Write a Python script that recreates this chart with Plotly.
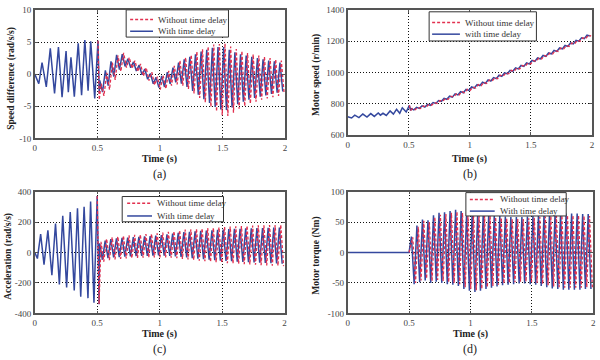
import plotly.graph_objects as go

# ---------------- DATA ----------------
# Post-0.5 s oscillation: extrema times (peaks and the troughs that follow them)
peak_t = [0.53, 0.575, 0.62, 0.665, 0.71, 0.755, 0.80, 0.845, 0.89, 0.935, 0.98,
          1.025, 1.07, 1.115, 1.16, 1.205, 1.25, 1.295, 1.34, 1.385, 1.43, 1.475,
          1.52, 1.565, 1.61, 1.655, 1.70, 1.745, 1.79, 1.835, 1.88, 1.925, 1.97]
trough_t = [0.5525, 0.5975, 0.6425, 0.6875, 0.7325, 0.7775, 0.8225, 0.8675, 0.9125,
            0.9575, 1.0025, 1.0475, 1.0925, 1.1375, 1.1825, 1.2275, 1.2725, 1.3175,
            1.3625, 1.4075, 1.4525, 1.4975, 1.5425, 1.5875, 1.6325, 1.6775, 1.7225,
            1.7675, 1.8125, 1.8575, 1.9025, 1.9475, 1.9925]
blue_lead = 0.011   # the "with time delay" trace runs slightly ahead of the other

# (a) speed difference
a_pre_t = [0, 0.032, 0.058, 0.092, 0.124, 0.158, 0.189, 0.218, 0.25, 0.268, 0.289,
           0.316, 0.347, 0.374, 0.40, 0.426, 0.447, 0.479, 0.505, 0.515]
a_pre_v = [0, -1.5, 1.8, -2.0, 4.0, -3.0, 4.2, -3.6, 3.6, -2.8, 2.6, -3.5, 4.8, -3.3,
           5.3, -2.6, 5.1, -3.8, 5.2, -3.0]
a_red_start_t = [0.505, 0.515]
a_red_start_v = [5.2, -4.0]
a_hi_red = [-1.5, 0.2, 1.8, 2.9, 3.3, 2.6, 2.1, 1.6, 1.0, 0.3, -0.4, -0.2, 0.5, 1.3,
            2.1, 2.6, 3.0, 3.5, 3.9, 4.3, 4.6, 4.7, 4.8, 4.3, 3.9, 3.6, 3.3, 3.1, 2.9,
            2.7, 2.5, 2.3, 2.1]
a_lo_red = [-3.4, -2.4, -0.9, 0.4, 1.0, 0.9, 0.4, -0.3, -1.0, -1.7, -2.4, -2.3, -1.8,
            -1.6, -1.8, -2.3, -3.0, -3.7, -4.4, -5.1, -5.8, -6.4, -6.5, -6.0, -5.4,
            -5.0, -4.6, -4.3, -4.0, -3.8, -3.6, -3.4, -3.1]
a_hi_blue = [-1.0, 0.6, 2.0, 3.0, 3.1, 2.4, 1.9, 1.4, 0.8, 0.1, -0.5, -0.3, 0.3, 1.0,
             1.8, 2.3, 2.7, 3.1, 3.5, 3.8, 4.1, 4.2, 4.2, 3.8, 3.4, 3.1, 2.9, 2.7, 2.5,
             2.3, 2.1, 2.0, 1.8]
a_lo_blue = [-2.8, -1.8, -0.4, 0.7, 1.2, 1.0, 0.5, -0.1, -0.8, -1.5, -2.1, -2.0, -1.5,
             -1.3, -1.5, -2.0, -2.6, -3.2, -3.9, -4.5, -5.1, -5.5, -5.6, -5.2, -4.7,
             -4.3, -4.0, -3.7, -3.5, -3.3, -3.1, -2.9, -2.7]

# (b) motor speed
b_pre_v = [718, 710, 728, 712, 735, 716, 738, 720, 742, 728, 740, 726, 755, 735, 765,
           740, 775, 748, 790, 758]
b_red_start_v = [790, 758]
b_hi = [770, 778, 787, 797, 808, 821, 835, 849, 864, 878, 893, 908, 923, 938, 953, 968,
        983, 998, 1014, 1030, 1045, 1061, 1077, 1093, 1109, 1125, 1141, 1157, 1173,
        1189, 1206, 1222, 1239]
b_lo = [762, 771, 780, 791, 803, 816, 829, 843, 857, 871, 886, 901, 916, 931, 946, 961,
        976, 992, 1008, 1023, 1039, 1055, 1071, 1087, 1103, 1119, 1135, 1151, 1167,
        1183, 1200, 1216, 1233]

# (c) acceleration
c_pre_t = [0, 0.021, 0.047, 0.074, 0.105, 0.137, 0.166, 0.197, 0.224, 0.255, 0.284,
           0.316, 0.342, 0.368, 0.395, 0.426, 0.447, 0.474, 0.50, 0.515]
c_pre_v = [0, -40, 120, -80, 145, -150, 190, -210, 240, -230, 265, -250, 290, -290,
           300, -300, 335, -330, 370, -340]
c_red_start_t = [0.50, 0.515]
c_red_start_v = [370, -340]
c_hi_red = [70, 90, 100, 105, 110, 112, 115, 118, 120, 122, 125, 130, 135, 140, 145,
            150, 152, 155, 158, 160, 162, 165, 168, 170, 172, 173, 175, 176, 178, 178,
            180, 180, 182]
c_lo_red = [-60, -50, -45, -42, -40, -38, -36, -35, -34, -33, -32, -33, -35, -38, -42,
            -46, -50, -54, -58, -62, -65, -68, -70, -72, -75, -77, -79, -81, -83, -85,
            -87, -88, -90]
c_hi_blue = [60, 78, 87, 92, 96, 98, 100, 103, 105, 107, 110, 114, 119, 124, 129, 133,
             136, 139, 142, 144, 146, 149, 151, 153, 155, 156, 158, 159, 160, 161, 162,
             163, 164]
c_lo_blue = [-48, -38, -33, -30, -28, -26, -24, -23, -22, -21, -20, -21, -23, -26, -29,
             -33, -37, -41, -45, -48, -51, -54, -56, -58, -60, -62, -64, -66, -68, -69,
             -71, -72, -74]

# (d) motor torque
d_pre_t = [0, 0.5]
d_pre_v = [0, 0]
d_hi_red = [25, 42, 52, 50, 58, 62, 63, 65, 67, 65, 63, 62, 61, 60, 60, 58, 57, 56, 55,
            55, 55, 56, 57, 58, 59, 60, 60, 61, 61, 61, 61, 60, 60]
d_lo_red = [-50, -46, -43, -47, -45, -47, -49, -50, -52, -57, -60, -62, -60, -57, -55,
            -53, -51, -50, -49, -48, -48, -49, -50, -52, -54, -56, -57, -58, -58, -58,
            -58, -57, -57]
d_hi_blue = [26, 44, 54, 53, 61, 65, 66, 68, 70, 68, 66, 65, 64, 63, 63, 61, 60, 59, 58,
             58, 58, 59, 60, 61, 62, 63, 63, 64, 64, 64, 64, 63, 63]
d_lo_blue = [-52, -49, -46, -50, -48, -50, -52, -53, -55, -60, -63, -65, -63, -60, -58,
             -56, -54, -53, -52, -51, -51, -52, -53, -55, -57, -59, -60, -61, -61, -61,
             -61, -60, -60]

x_ticks = [0, 0.5, 1, 1.5, 2]
x_tick_text = ["0", "0.5", "1", "1.5", "2"]
a_ticks = [-10, -5, 0, 5, 10]
a_tick_text = ["-10", "-5", "0", "5", "10"]
b_ticks = [600, 800, 1000, 1200, 1400]
b_tick_text = ["600", "800", "1000", "1200", "1400"]
c_ticks = [-400, -200, 0, 200, 400]
c_tick_text = ["-400", "-200", "0", "200", "400"]
d_ticks = [-100, -50, 0, 50, 100]
d_tick_text = ["-100", "-50", "0", "50", "100"]

y_titles = ["Speed difference (rad/s/s)", "Motor speed (r/min)",
            "Acceleration (rad/s/s)", "Motor torque (Nm)"]
legend_names = [("Without time delay", "With time delay"),
                ("Without time delay", "with time delay"),
                ("Without time delay", "With time delay"),
                ("Without time delay", "With time delay")]
panel_labels = ["(a)", "(b)", "(c)", "(d)"]

# ---------------- helpers ----------------
red_ext_t = [v for pair in zip(peak_t, trough_t) for v in pair]
blue_ext_t = [v - blue_lead for v in red_ext_t]


def interleave(hi, lo):
    return [v for pair in zip(hi, lo) for v in pair]


RED = "#e2304f"
BLUE = "#34489e"
FONT = "Liberation Serif"

fig = go.Figure()

panels = [
    dict(ax="",
         blue_t=a_pre_t + blue_ext_t, blue_v=a_pre_v + interleave(a_hi_blue, a_lo_blue),
         red_t=a_red_start_t + red_ext_t, red_v=a_red_start_v + interleave(a_hi_red, a_lo_red)),
    dict(ax="2",
         blue_t=a_pre_t + blue_ext_t, blue_v=b_pre_v + interleave(b_hi, b_lo),
         red_t=a_red_start_t + red_ext_t, red_v=b_red_start_v + interleave(b_hi, b_lo)),
    dict(ax="3",
         blue_t=c_pre_t + blue_ext_t, blue_v=c_pre_v + interleave(c_hi_blue, c_lo_blue),
         red_t=c_red_start_t + red_ext_t, red_v=c_red_start_v + interleave(c_hi_red, c_lo_red)),
    dict(ax="4",
         blue_t=d_pre_t + blue_ext_t, blue_v=d_pre_v + interleave(d_hi_blue, d_lo_blue),
         red_t=d_pre_t[-1:] + red_ext_t, red_v=d_pre_v[-1:] + interleave(d_hi_red, d_lo_red)),
]

for i, p in enumerate(panels):
    xa, ya = "x" + p["ax"], "y" + p["ax"]
    fig.add_trace(go.Scatter(x=p["blue_t"], y=p["blue_v"], mode="lines",
                             name=legend_names[i][1],
                             line=dict(color=BLUE, width=1.5),
                             xaxis=xa, yaxis=ya, showlegend=False, hoverinfo="skip"))
    fig.add_trace(go.Scatter(x=p["red_t"], y=p["red_v"], mode="lines",
                             name=legend_names[i][0],
                             line=dict(color=RED, width=1.3, dash="3px,2px"),
                             xaxis=xa, yaxis=ya, showlegend=False, hoverinfo="skip"))

x_domains = [(0.055, 0.475), (0.58, 0.99), (0.055, 0.474), (0.58, 0.992)]
y_domains = [(0.619, 0.986), (0.628, 0.986), (0.119, 0.467), (0.119, 0.467)]
y_ranges = [(-10, 10), (600, 1400), (-400, 400), (-100, 100)]
y_tickv = [(a_ticks, a_tick_text), (b_ticks, b_tick_text),
           (c_ticks, c_tick_text), (d_ticks, d_tick_text)]

axis_common = dict(showgrid=True, gridcolor="#111", griddash="1px,2px", gridwidth=1,
                   showline=True, linecolor="#555", linewidth=1.5, mirror="ticks",
                   ticks="inside", ticklen=3, tickcolor="#555", zeroline=False,
                   tickfont=dict(family=FONT, size=9, color="#444"))

layout = dict(width=600, height=360, margin=dict(l=0, r=0, t=0, b=0),
              paper_bgcolor="white", plot_bgcolor="white", showlegend=False)
for i in range(4):
    s = "" if i == 0 else str(i + 1)
    layout["xaxis" + s] = dict(domain=x_domains[i], range=[0, 2], anchor="y" + s,
                               tickvals=x_ticks, ticktext=x_tick_text, **axis_common)
    layout["yaxis" + s] = dict(domain=y_domains[i], range=list(y_ranges[i]),
                               anchor="x" + s, tickvals=y_tickv[i][0],
                               ticktext=y_tickv[i][1], **axis_common)
fig.update_layout(**layout)

W, H = 600.0, 360.0


def px(x):
    return x / W


def py(y):
    return 1 - y / H


annotations = []
shapes = []
time_y = [158, 158, 338, 338]
lab_y = [174, 174, 354, 354]
ytitle_pos = [(10, 75), (317, 72), (7, 258), (317, 258)]
for i in range(4):
    cx = (x_domains[i][0] + x_domains[i][1]) / 2
    annotations.append(dict(text="<b>Time (s)</b>", x=cx, y=py(time_y[i]), xref="paper",
                            yref="paper", showarrow=False, xanchor="center",
                            yanchor="middle",
                            font=dict(family=FONT, size=10, color="#222")))
    annotations.append(dict(text=panel_labels[i], x=cx, y=py(lab_y[i]), xref="paper",
                            yref="paper", showarrow=False, xanchor="center",
                            yanchor="middle",
                            font=dict(family=FONT, size=12, color="#222")))
    annotations.append(dict(text="<b>" + y_titles[i] + "</b>", x=px(ytitle_pos[i][0]),
                            y=py(ytitle_pos[i][1]), xref="paper", yref="paper",
                            showarrow=False, textangle=-90, xanchor="center",
                            yanchor="middle",
                            font=dict(family=FONT, size=9.5, color="#222")))

# legend boxes (box, sample line start/end, text x, row y's) in pixels
legend_boxes = [
    dict(box=(125, 5, 228, 33), line=(129, 152), tx=155, rows=(15, 27)),
    dict(box=(430, 7, 538, 37), line=(433, 461), tx=464, rows=(18, 30)),
    dict(box=(121, 197, 223, 223), line=(126, 151), tx=154, rows=(204, 217)),
    dict(box=(467, 193, 568, 217), line=(471, 496), tx=499, rows=(200, 212)),
]
for i, lb in enumerate(legend_boxes):
    x0, y0, x1, y1 = lb["box"]
    shapes.append(dict(type="rect", xref="paper", yref="paper", x0=px(x0), x1=px(x1),
                       y0=py(y0), y1=py(y1), fillcolor="white",
                       line=dict(color="#333", width=1), layer="above"))
    for j, (col, dash) in enumerate([(RED, "3px,2px"), (BLUE, "solid")]):
        shapes.append(dict(type="line", xref="paper", yref="paper",
                           x0=px(lb["line"][0]), x1=px(lb["line"][1]),
                           y0=py(lb["rows"][j]), y1=py(lb["rows"][j]),
                           line=dict(color=col, width=1.5, dash=dash), layer="above"))
        annotations.append(dict(text=legend_names[i][j], x=px(lb["tx"]),
                                y=py(lb["rows"][j]), xref="paper", yref="paper",
                                showarrow=False, xanchor="left", yanchor="middle",
                                font=dict(family=FONT, size=9, color="#333")))
fig.update_layout(annotations=annotations, shapes=shapes)

fig.write_html("out.html", config={"displayModeBar": False},
               post_script="document.body.style.margin='0';")
